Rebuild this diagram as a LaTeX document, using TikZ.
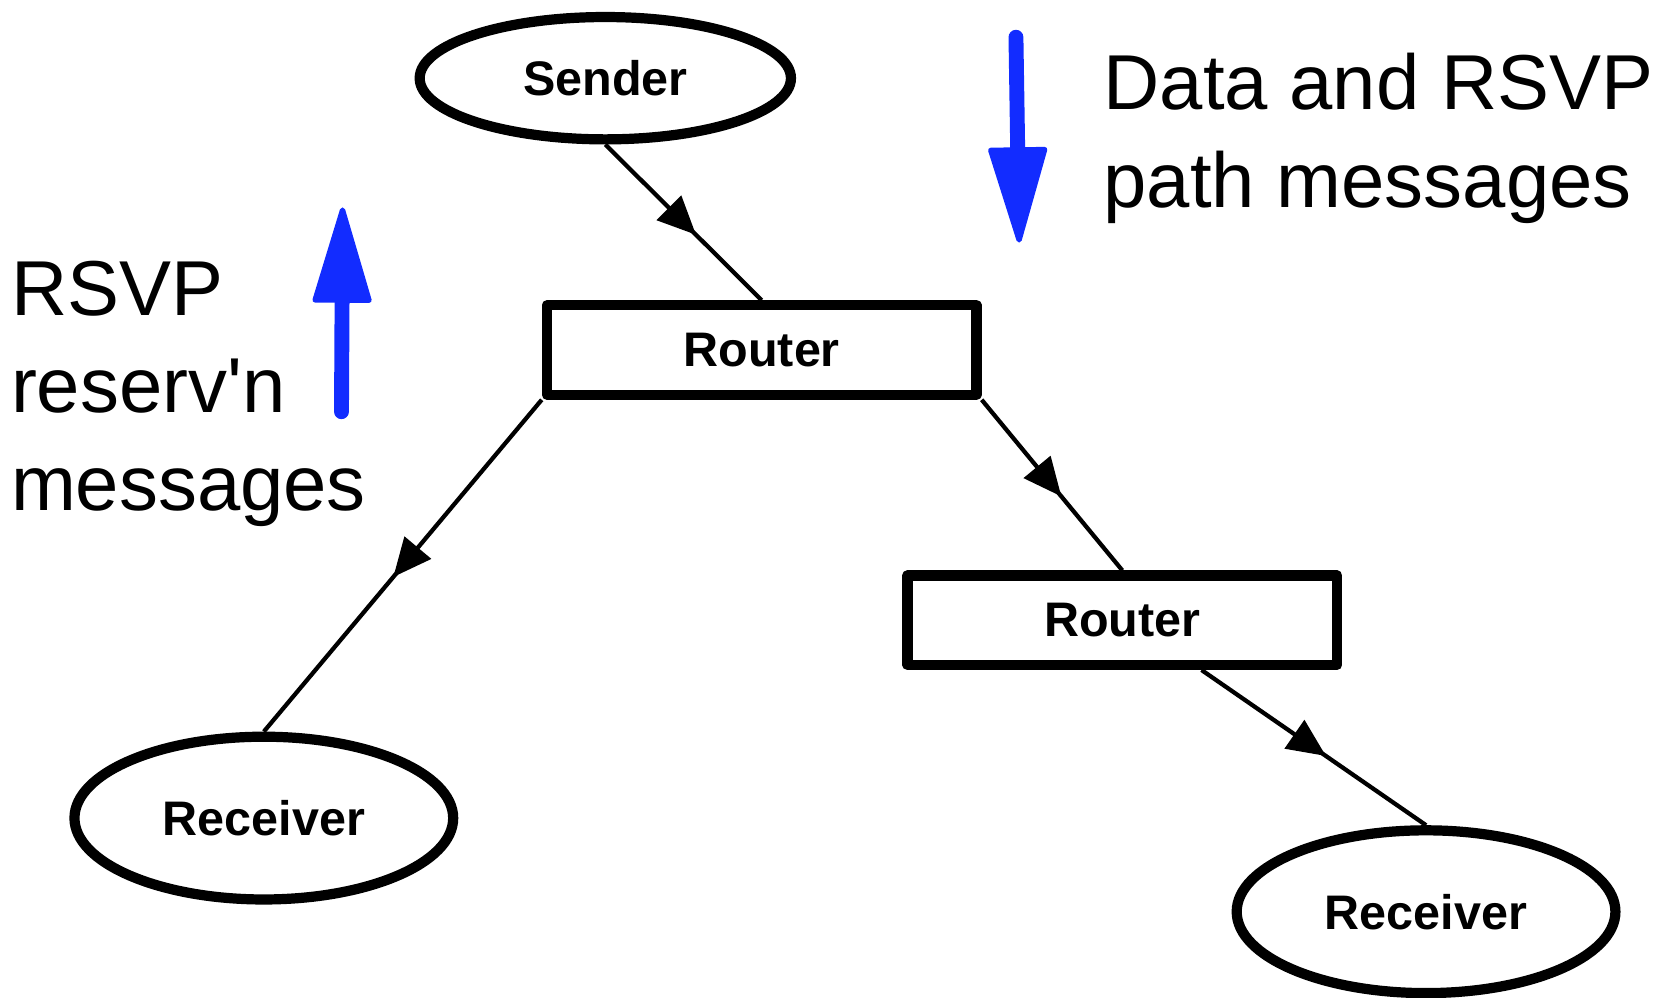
\documentclass[tikz,border=0pt]{standalone}
\usepackage{fontspec}
\setmainfont{Liberation Sans}
\usetikzlibrary{shapes.geometric,arrows.meta,decorations.markings,calc}
\definecolor{arrowblue}{RGB}{18,44,255}
\newcommand{\straightquote}{\XeTeXglyph\XeTeXcharglyph"27\relax}
\tikzset{
  ellnode/.style={ellipse, draw, line width=4.8pt, fill=white, inner sep=0pt,
    minimum width=174.5pt, minimum height=57.5pt,
    font=\fontsize{22.8}{27}\selectfont\bfseries},
  recnode/.style={ellnode, minimum width=178pt, minimum height=76.5pt},
  routerbox/.style={rectangle, draw, line width=4.8pt, line join=round, fill=white,
    inner sep=0pt, minimum width=202pt, minimum height=42pt,
    font=\fontsize{22.8}{27}\selectfont\bfseries},
  conn/.style={line width=2pt},
  midarrow/.style={postaction={decorate}, decoration={markings,
    mark=at position #1 with {\arrow{Triangle[length=18pt,width=16pt]}}}},
  bluearrow/.style={draw=arrowblue, line width=7pt, line cap=round,
    -{Triangle[length=48pt,width=28pt,line width=2.5pt,round,fill=arrowblue,color=arrowblue]}},
  bigtext/.style={anchor=base west, inner sep=0pt, font=\fontsize{36.6}{43}\selectfont}
}
\begin{document}
\begin{tikzpicture}[x=0.5pt,y=-0.5pt]
\useasboundingbox (0,0) rectangle (1567,938);
% nodes
\node[ellnode] (s) at (569,73.5) {Sender};
\node[routerbox] (r1) at (716,329) {Router};
\node[routerbox] (r2) at (1055,583) {Router};
\node[recnode] (rc1) at (248,769) {Receiver};
\node[recnode] (rc2) at (1340.5,857) {Receiver};
% connectors
\draw[conn, midarrow=0.58] (s.south) -- (r1.north);
\draw[conn, midarrow=0.534] (r1.south west) -- (rc1.north);
\draw[conn, midarrow=0.568] (r1.south east) -- (r2.north);
\draw[conn, midarrow=0.554] ($(r2.south)!0.36!(r2.south east)$) -- (rc2.north);
% blue arrows
\coordinate (dtop) at (955,35);
\coordinate (dtip) at (958,228);
\coordinate (ubot) at (321,387);
\coordinate (utip) at (322,195);
\draw[bluearrow] (dtop) -- (dtip);
\draw[bluearrow] (ubot) -- (utip);
% texts
\node[bigtext] (t1) at (1037,103) {Data and RSVP};
\node[bigtext] (t2) at (1037,195) {path messages};
\node[bigtext] (t3) at (10,297) {RSVP};
\node[bigtext] (t4) at (10,388) {reserv\straightquote n};
\node[bigtext] (t5) at (10,480) {messages};
\end{tikzpicture}
\end{document}
